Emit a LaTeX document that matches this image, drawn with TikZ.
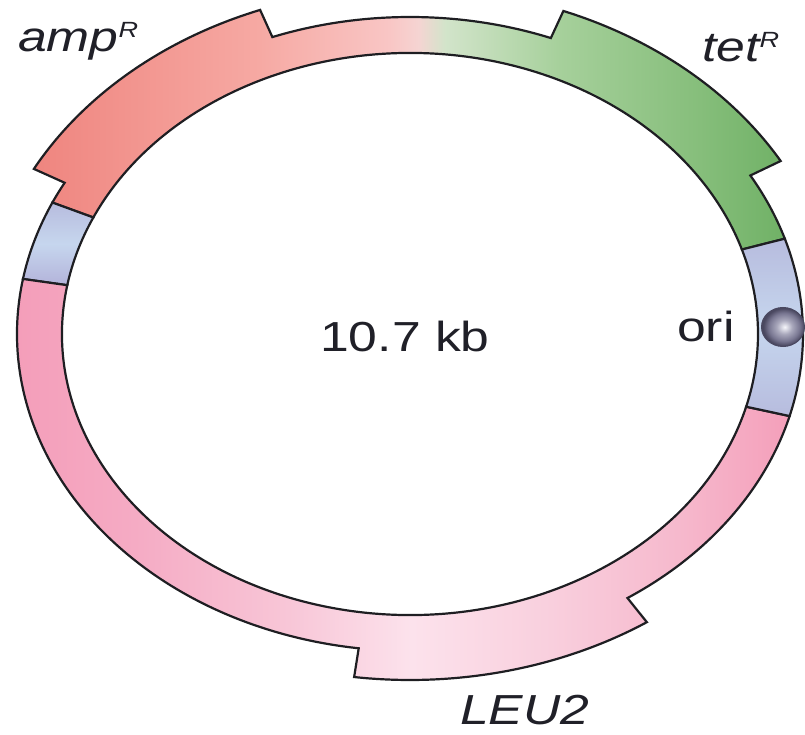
\documentclass[tikz,border=0pt]{standalone}
\usepackage{fontspec}
\newfontfamily\labfont[FakeStretch=1.23]{Liberation Sans}
\usetikzlibrary{calc}

% ring colours
\definecolor{ringline}{HTML}{1E1E22}
\definecolor{labtext}{HTML}{202028}
\definecolor{ampA}{HTML}{EF857F}
\definecolor{ampB}{HTML}{F6A9A3}
\definecolor{ampC}{HTML}{F9C6C5}
\definecolor{midP}{HTML}{F5D4D2}
\definecolor{midG}{HTML}{D2E4CA}
\definecolor{tetA}{HTML}{A6D09B}
\definecolor{tetB}{HTML}{86BE7B}
\definecolor{tetC}{HTML}{70B166}
\definecolor{leuA}{HTML}{F49CB8}
\definecolor{leuB}{HTML}{F5ABC4}
\definecolor{leuC}{HTML}{F8C6D7}
\definecolor{leuD}{HTML}{FCE2EC}
\definecolor{leuE}{HTML}{F9D0DE}
\definecolor{leuF}{HTML}{F6B9CD}
\definecolor{leuG}{HTML}{F49FBA}
\definecolor{blueEdge}{HTML}{B7BCDE}
\definecolor{blueLow}{HTML}{B3B3DA}
\definecolor{blueMid}{HTML}{C6D6EE}
\definecolor{ballHi}{HTML}{F6F6FB}
\definecolor{ballMid}{HTML}{A9A8BC}
\definecolor{ballLow}{HTML}{787691}
\definecolor{ballDark}{HTML}{4A4860}

% amp -> tet band across the top
\pgfdeclarehorizontalshading{topband}{100bp}{%
  color(0bp)=(ampA); color(25bp)=(ampA); color(40bp)=(ampB);
  color(48.7bp)=(ampC); color(50.6bp)=(midP); color(52.4bp)=(midG);
  color(60bp)=(tetA); color(69.3bp)=(tetB); color(75bp)=(tetC);
  color(100bp)=(tetC)}
% LEU2 band along the bottom
\pgfdeclarehorizontalshading{leuband}{100bp}{%
  color(0bp)=(leuA); color(25bp)=(leuA); color(33.6bp)=(leuB);
  color(43.3bp)=(leuC); color(51.1bp)=(leuD); color(59.5bp)=(leuE);
  color(67.9bp)=(leuF); color(75bp)=(leuG); color(100bp)=(leuG)}
% origin bead
\pgfdeclareradialshading{orisphere}{\pgfpoint{2bp}{0bp}}{%
  color(0bp)=(ballHi); color(9bp)=(ballMid); color(18bp)=(ballLow);
  color(24bp)=(ballDark); color(50bp)=(ballDark)}

\newcommand\geneR{\raisebox{14pt}{\fontsize{22}{22}\selectfont R}}

% radii: inner edge 348/281, thin outer edge 393/317, thick (gene) outer edge 428/346
\tikzset{
  ring/.style={draw=ringline, line width=2.2pt, line join=miter},
  genelabel/.style={font=\labfont\fontsize{42}{48}\selectfont, text=labtext,
    inner sep=0pt, anchor=base west},
}

\begin{document}
\begin{tikzpicture}[x=1pt,y=1pt]
\useasboundingbox (0,0) rectangle (805,734);

\begin{scope}[shift={(410,400)}]
  % top band: tet (thick), spacer, amp (thick)
  \path[ring, shade, shading=topband]
    (17.5:393pt and 317pt) arc[start angle=17.5, end angle=30, x radius=393pt, y radius=317pt]
    -- (30:428pt and 346pt) arc[start angle=30, end angle=69, x radius=428pt, y radius=346pt]
    -- (69:393pt and 317pt) arc[start angle=69, end angle=110.5, x radius=393pt, y radius=317pt]
    -- (110.5:428pt and 346pt) arc[start angle=110.5, end angle=151.5, x radius=428pt, y radius=346pt]
    -- (151.5:393pt and 317pt) arc[start angle=151.5, end angle=155.5, x radius=393pt, y radius=317pt]
    -- (155.5:348pt and 281pt) arc[start angle=155.5, end angle=17.5, x radius=348pt, y radius=281pt]
    -- cycle;

  % left spacer
  \path[ring, top color=blueEdge, bottom color=blueLow, middle color=blueMid]
    (155.5:393pt and 317pt) arc[start angle=155.5, end angle=170, x radius=393pt, y radius=317pt]
    -- (170:348pt and 281pt) arc[start angle=170, end angle=155.5, x radius=348pt, y radius=281pt]
    -- cycle;

  % LEU2 band
  \path[ring, shade, shading=leuband]
    (170:393pt and 317pt) arc[start angle=170, end angle=262.5, x radius=393pt, y radius=317pt]
    -- (262.5:428pt and 346pt) arc[start angle=262.5, end angle=303.6, x radius=428pt, y radius=346pt]
    -- (303.6:393pt and 317pt) arc[start angle=303.6, end angle=345, x radius=393pt, y radius=317pt]
    -- (345:348pt and 281pt) arc[start angle=345, end angle=170, x radius=348pt, y radius=281pt]
    -- cycle;

  % right spacer carrying ori
  \path[ring, top color=blueEdge, bottom color=blueEdge, middle color=blueMid]
    (-15:393pt and 317pt) arc[start angle=-15, end angle=17.5, x radius=393pt, y radius=317pt]
    -- (17.5:348pt and 281pt) arc[start angle=17.5, end angle=-15, x radius=348pt, y radius=281pt]
    -- cycle;
\end{scope}

% origin of replication bead
\path[shade, shading=orisphere, draw=ballDark, line width=1pt]
  (783,407) ellipse [x radius=21.5pt, y radius=19.5pt];

% labels
\node[genelabel] (amp) at (18,682) {\itshape amp\geneR};
\node[genelabel] (tet) at (702,672) {\itshape tet\geneR};
\node[genelabel] (size) at (320,382) {10.7 kb};
\node[genelabel] (ori) at (677,392) {ori};
\node[genelabel] (leu) at (460,10) {\itshape LEU2};
\end{tikzpicture}
\end{document}
